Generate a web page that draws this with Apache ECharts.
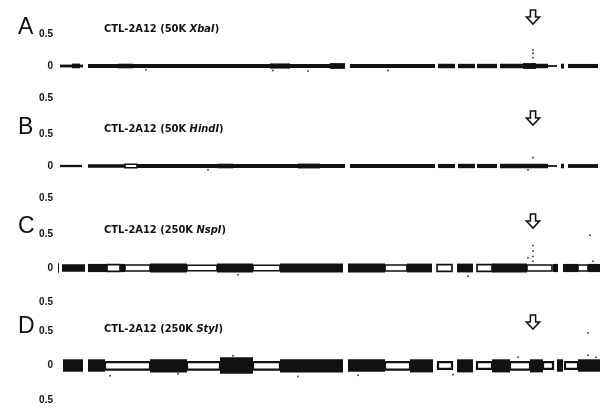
<!DOCTYPE html>
<html><head><meta charset="utf-8">
<script src="https://cdn.jsdelivr.net/npm/echarts@6/dist/echarts.min.js"></script>
<style>html,body{margin:0;padding:0;background:#fff}#c{width:606px;height:408px}</style>
</head><body><div id="c"></div>
<script>
// ---- data ----
const panelLetters = ['A', 'B', 'C', 'D'];
const panelSamples = ['CTL-2A12 (50K ', 'CTL-2A12 (50K ', 'CTL-2A12 (250K ', 'CTL-2A12 (250K '];
const panelEnzymes = ['XbaI', 'HindI', 'NspI', 'StyI'];
const yTickValues = [-0.5, 0, 0.5];
const yTickLabels = ['0.5', '0', '0.5'];
const arrowPosition = 475; // genome position of the marked locus

// segments: [start, end, low, high, hollow(1)/solid(0)] in genome units and log2 ratio
const segmentsA = [
  [2, 25, -0.022, 0.022, 0], [14, 22, -0.035, 0.038, 0],
  [30, 287, -0.03, 0.03, 0], [60, 75, -0.036, 0.036, 0], [212, 232, -0.04, 0.04, 0], [272, 287, -0.045, 0.045, 0],
  [292, 377, -0.032, 0.032, 0], [380, 397, -0.035, 0.035, 0], [400, 417, -0.034, 0.034, 0],
  [419, 439, -0.034, 0.034, 0], [442, 490, -0.035, 0.035, 0], [465, 478, -0.045, 0.045, 0],
  [490, 499, -0.014, 0.014, 0], [503, 506, -0.04, 0.035, 0], [510, 540, -0.032, 0.032, 0]
];
const segmentsB = [
  [2, 24, -0.018, 0.018, 0], [30, 67, -0.028, 0.028, 0], [67, 79, -0.028, 0.028, 1],
  [79, 287, -0.03, 0.03, 0], [160, 175, -0.036, 0.036, 0], [240, 262, -0.038, 0.038, 0],
  [292, 377, -0.03, 0.03, 0], [380, 397, -0.032, 0.032, 0], [400, 417, -0.034, 0.034, 0],
  [419, 439, -0.032, 0.032, 0], [442, 490, -0.034, 0.034, 0], [490, 499, -0.014, 0.014, 0],
  [503, 506, -0.035, 0.035, 0], [510, 540, -0.03, 0.03, 0]
];
const segmentsC = [
  [0, 1, -0.07, 0.07, 0], [4, 27, -0.055, 0.055, 0],
  [30, 49, -0.06, 0.06, 0], [49, 62, -0.05, 0.05, 1], [62, 67, -0.06, 0.06, 0],
  [67, 92, -0.045, 0.045, 1], [92, 129, -0.065, 0.065, 0], [129, 159, -0.04, 0.04, 1],
  [159, 195, -0.065, 0.065, 0], [195, 222, -0.04, 0.04, 1], [222, 285, -0.065, 0.065, 0],
  [290, 327, -0.065, 0.065, 0], [327, 349, -0.045, 0.045, 1], [349, 374, -0.065, 0.065, 0],
  [379, 394, -0.05, 0.05, 1], [399, 415, -0.065, 0.065, 0], [419, 434, -0.05, 0.05, 1],
  [434, 469, -0.065, 0.065, 0], [469, 494, -0.045, 0.045, 1], [495, 500, -0.06, 0.06, 0],
  [505, 520, -0.06, 0.06, 0], [520, 530, -0.045, 0.045, 1], [530, 542, -0.06, 0.06, 0]
];
const segmentsD = [
  [5, 25, -0.09, 0.09, 0],
  [30, 47, -0.09, 0.09, 0], [47, 92, -0.06, 0.05, 1], [92, 129, -0.1, 0.09, 0],
  [129, 162, -0.06, 0.05, 1], [162, 195, -0.12, 0.12, 0], [195, 222, -0.06, 0.05, 1],
  [222, 285, -0.1, 0.09, 0], [290, 327, -0.09, 0.09, 0], [327, 352, -0.06, 0.05, 1],
  [352, 375, -0.1, 0.09, 0], [380, 394, -0.05, 0.05, 1], [399, 415, -0.1, 0.09, 0],
  [419, 434, -0.05, 0.05, 1], [434, 452, -0.1, 0.09, 0], [452, 472, -0.06, 0.05, 1],
  [472, 485, -0.1, 0.09, 0], [485, 495, -0.05, 0.05, 1], [499, 505, -0.09, 0.09, 0],
  [507, 520, -0.05, 0.05, 1], [520, 542, -0.09, 0.09, 0]
];
// scattered single probes outside the bands: [position, log2 ratio]
const outliersA = [[475, 0.13], [475, 0.2], [475, 0.25], [88, -0.06], [215, -0.07], [250, -0.08], [330, -0.07]];
const outliersB = [[475, 0.13], [470, -0.06], [150, -0.06]];
const outliersC = [[475, 0.1], [475, 0.17], [475, 0.25], [475, 0.33], [180, -0.1], [410, -0.12], [470, 0.15], [535, 0.1], [532, 0.48]];
const outliersD = [[52, -0.15], [120, -0.12], [175, 0.14], [240, -0.16], [300, -0.14], [395, -0.13], [460, 0.12], [530, 0.15], [538, 0.12], [530, 0.47]];

const segments = [segmentsA, segmentsB, segmentsC, segmentsD];
const outliers = [outliersA, outliersB, outliersC, outliersD];

// ---- layout ----
const gridTops = [34, 134, 234, 331];
const gridHeights = [64, 64, 68, 69];
const arrowOffsets = [-17, -16, -13, -9];
const letterTops = [11, 111, 210, 310];
const titleTops = [19, 119, 220, 319];

const chart = echarts.init(document.getElementById('c'), null, {renderer: 'canvas'});
const grids = [], xAxes = [], yAxes = [], series = [], titles = [];
for (let i = 0; i < 4; i++) {
  grids.push({left: 58, right: 8, top: gridTops[i], height: gridHeights[i]});
  xAxes.push({type: 'value', gridIndex: i, min: 0, max: 540, show: false});
  yAxes.push({
    type: 'value', gridIndex: i, min: -0.5, max: 0.5, interval: 0.5,
    axisLine: {show: false}, axisTick: {show: false}, splitLine: {show: false},
    axisLabel: {
      margin: 5, color: '#111', fontSize: 10, fontWeight: 'bold', fontFamily: 'Liberation Sans',
      formatter: v => { const k = yTickValues.findIndex(t => Math.abs(t - v) < 1e-9); return k >= 0 ? yTickLabels[k] : ''; }
    }
  });
  series.push({
    type: 'custom', xAxisIndex: i, yAxisIndex: i, clip: false,
    data: segments[i],
    renderItem: (params, api) => {
      const p0 = api.coord([api.value(0), api.value(3)]);
      const p1 = api.coord([api.value(1), api.value(2)]);
      const hollow = api.value(4) === 1;
      return {
        type: 'rect',
        shape: {x: p0[0], y: p0[1], width: Math.max(1, p1[0] - p0[0]), height: Math.max(1, p1[1] - p0[1])},
        style: hollow ? {fill: '#fff', stroke: '#111', lineWidth: i === 3 ? 2.2 : 1.6} : {fill: '#111'}
      };
    },
    markPoint: {
      symbol: 'path://M3,0 L7,0 L7,6 L10,6 L5,12 L0,6 L3,6 Z',
      symbolSize: [13, 14],
      symbolOffset: [0, arrowOffsets[i]],
      itemStyle: {color: '#fff', borderColor: '#111', borderWidth: 1.6},
      label: {show: false},
      data: [{coord: [arrowPosition, 0.5]}]
    },
    silent: true
  });
  series.push({
    type: 'scatter', xAxisIndex: i, yAxisIndex: i, data: outliers[i],
    symbolSize: 2, itemStyle: {color: '#222'}, silent: true
  });
  titles.push({
    text: '{n|' + panelSamples[i] + '}{it|' + panelEnzymes[i] + '}{n|)}',
    left: 99, top: titleTops[i],
    textStyle: {
      rich: {
        n: {fontFamily: 'DejaVu Sans Condensed', fontSize: 11, fontWeight: 'bold', color: '#111'},
        it: {fontFamily: 'DejaVu Sans Condensed', fontSize: 11, fontWeight: 'bold', fontStyle: 'italic', color: '#111'}
      }
    }
  });
  titles.push({
    text: panelLetters[i], left: 13, top: letterTops[i],
    textStyle: {fontFamily: 'Liberation Sans', fontSize: 23, fontWeight: 'normal', color: '#111'}
  });
}
chart.setOption({
  animation: false,
  backgroundColor: '#fff',
  title: titles,
  grid: grids, xAxis: xAxes, yAxis: yAxes, series: series
});
</script></body></html>
